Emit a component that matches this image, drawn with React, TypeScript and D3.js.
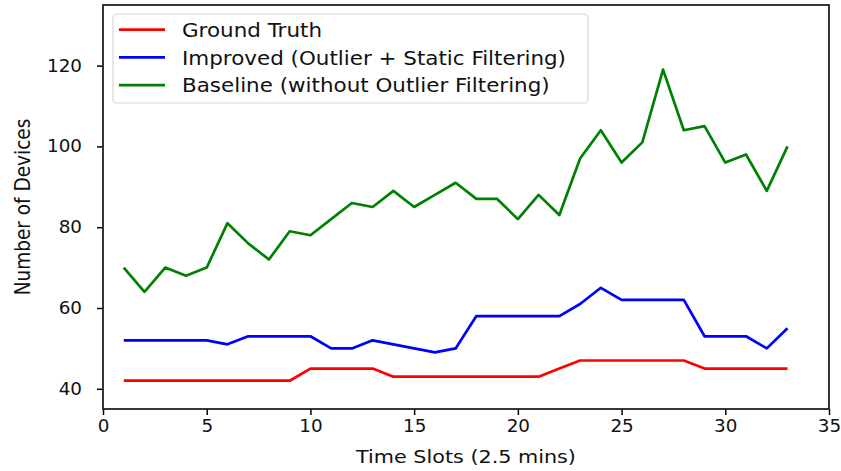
import { useRef, useEffect } from 'react';
import * as d3 from 'd3';

const WIDTH = 841;
const HEIGHT = 471;

const timeSlots = d3.range(1, 34);

const groundTruth = [
  42, 42, 42, 42, 42, 42, 42, 42, 42, 45, 45, 45, 45, 43, 43, 43, 43,
  43, 43, 43, 43, 45, 47, 47, 47, 47, 47, 47, 45, 45, 45, 45, 45,
];

const improved = [
  52, 52, 52, 52, 52, 51, 53, 53, 53, 53, 50, 50, 52, 51, 50, 49, 50,
  58, 58, 58, 58, 58, 61, 65, 62, 62, 62, 62, 53, 53, 53, 50, 55,
];

const baseline = [
  70, 64, 70, 68, 70, 81, 76, 72, 79, 78, 82, 86, 85, 89, 85, 88, 91,
  87, 87, 82, 88, 83, 97, 104, 96, 101, 119, 104, 105, 96, 98, 89, 100,
];

const seriesNames = [
  'Ground Truth',
  'Improved (Outlier + Static Filtering)',
  'Baseline (without Outlier Filtering)',
];
const seriesColors = ['#ff0000', '#0000ff', '#008000'];

const xTicks = [0, 5, 10, 15, 20, 25, 30, 35];
const yTicks = [40, 60, 80, 100, 120];

// text in the picture is stretched sideways a bit
const FONT = 'DejaVu Sans, sans-serif';
const LABEL_FS = 18.5;
const LABEL_SX = 1.12;
const TICK_FS = 17;
const TICK_SX = 1.08;
const LEGEND_FS = 19.5;
const LEGEND_SX = 1.1;

export default function App() {
  const svgRef = useRef<SVGSVGElement>(null);

  useEffect(() => {
    if (!svgRef.current) return;
    const svg = d3.select(svgRef.current);
    svg.selectAll('*').remove();

    const margin = { top: 5, right: 12, bottom: 62, left: 103 };
    const x = d3.scaleLinear().domain([0, 35]).range([margin.left, WIDTH - margin.right]);
    const y = d3.scaleLinear().domain([35, 135]).range([HEIGHT - margin.bottom, margin.top]);

    const series = [groundTruth, improved, baseline];

    // Lines
    const line = d3
      .line<number>()
      .x((_, i) => x(timeSlots[i]))
      .y((d) => y(d));

    series.forEach((vals, k) => {
      svg
        .append('path')
        .datum(vals)
        .attr('d', line)
        .attr('fill', 'none')
        .attr('stroke', seriesColors[k])
        .attr('stroke-width', 2.7)
        .attr('stroke-linejoin', 'round');
    });

    // X axis
    svg
      .append('g')
      .attr('transform', `translate(0,${y(35)})`)
      .call(d3.axisBottom(x).tickValues(xTicks).tickSize(6).tickPadding(5).tickSizeOuter(0))
      .call((g) => g.select('.domain').remove())
      .call((g) => g.selectAll('.tick line').attr('stroke', '#000').attr('stroke-width', 1.5))
      .call((g) =>
        g
          .selectAll('.tick text')
          .attr('fill', '#111')
          .attr('font-size', TICK_FS)
          .attr('font-family', FONT)
          .attr('transform', `scale(${TICK_SX},1)`)
      );

    // Y axis
    svg
      .append('g')
      .attr('transform', `translate(${x(0)},0)`)
      .call(d3.axisLeft(y).tickValues(yTicks).tickSize(6).tickPadding(13).tickSizeOuter(0))
      .call((g) => g.select('.domain').remove())
      .call((g) => g.selectAll('.tick line').attr('stroke', '#000').attr('stroke-width', 1.5))
      .call((g) =>
        g
          .selectAll('.tick text')
          .attr('fill', '#111')
          .attr('font-size', TICK_FS)
          .attr('font-family', FONT)
          .attr('x', -21 / TICK_SX)
          .attr('transform', `scale(${TICK_SX},1)`)
      );

    // Frame
    svg
      .append('rect')
      .attr('x', x(0))
      .attr('y', y(135))
      .attr('width', x(35) - x(0))
      .attr('height', y(35) - y(135))
      .attr('fill', 'none')
      .attr('stroke', '#222')
      .attr('stroke-width', 1.8);

    // Axis labels
    svg
      .append('text')
      .attr('transform', `translate(${(x(0) + x(35)) / 2},463) scale(${LABEL_SX},1)`)
      .attr('text-anchor', 'middle')
      .attr('font-size', LABEL_FS)
      .attr('font-family', FONT)
      .attr('fill', '#111')
      .text('Time Slots (2.5 mins)');

    svg
      .append('text')
      .attr('transform', `translate(30,${(y(35) + y(135)) / 2}) scale(${LABEL_SX},1) rotate(-90)`)
      .attr('text-anchor', 'middle')
      .attr('font-size', LABEL_FS)
      .attr('font-family', FONT)
      .attr('fill', '#111')
      .text('Number of Devices');

    // Legend
    const legend = svg.append('g');
    legend
      .append('rect')
      .attr('x', 113)
      .attr('y', 14)
      .attr('width', 475)
      .attr('height', 89)
      .attr('rx', 4)
      .attr('fill', '#fff')
      .attr('fill-opacity', 0.8)
      .attr('stroke', '#d6d6d6')
      .attr('stroke-width', 1.2);

    seriesNames.forEach((name, i) => {
      const cy = 29.7 + i * 27.7;
      legend
        .append('line')
        .attr('x1', 119)
        .attr('x2', 165)
        .attr('y1', cy)
        .attr('y2', cy)
        .attr('stroke', seriesColors[i])
        .attr('stroke-width', 2.7);
      legend
        .append('text')
        .attr('transform', `translate(182,${cy + 7.3}) scale(${LEGEND_SX},1)`)
        .attr('font-size', LEGEND_FS)
        .attr('font-family', FONT)
        .attr('fill', '#111')
        .text(name);
    });
  }, []);

  return (
    <svg
      ref={svgRef}
      width={WIDTH}
      height={HEIGHT}
      style={{ position: 'absolute', left: 0, top: 0, background: '#fff' }}
    />
  );
}
